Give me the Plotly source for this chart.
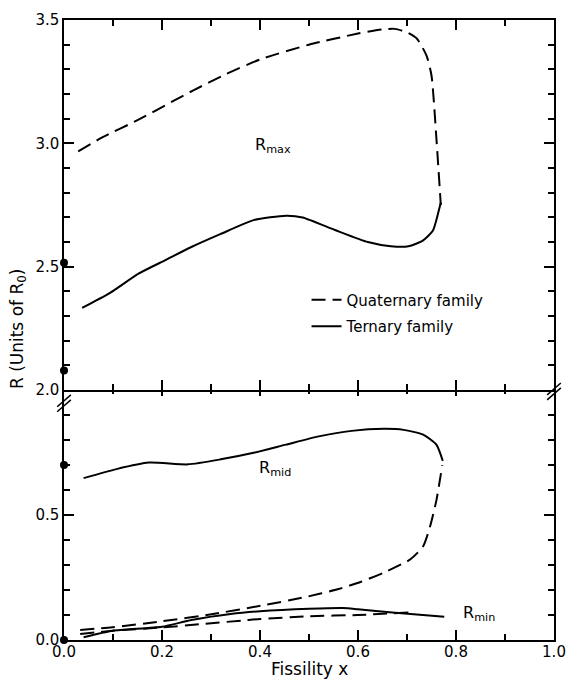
import plotly.graph_objects as go

# ---------------- data ----------------
# Upper panel: R_max
quat_rmax_x = [0.029, 0.078, 0.151, 0.264, 0.33, 0.40, 0.50, 0.60, 0.65, 0.675, 0.70, 0.72, 0.74, 0.75, 0.76, 0.769]
quat_rmax_y = [2.968, 3.024, 3.095, 3.215, 3.28, 3.34, 3.40, 3.445, 3.462, 3.464, 3.45, 3.425, 3.355, 3.275, 3.02, 2.75]

tern_rmax_x = [0.037, 0.093, 0.153, 0.207, 0.26, 0.32, 0.387, 0.453, 0.487, 0.553, 0.62, 0.667, 0.703, 0.733, 0.753, 0.763, 0.769]
tern_rmax_y = [2.333, 2.393, 2.473, 2.527, 2.58, 2.633, 2.689, 2.707, 2.70, 2.649, 2.60, 2.583, 2.583, 2.607, 2.647, 2.713, 2.76]

# Lower panel: R_mid
tern_rmid_x = [0.04, 0.107, 0.173, 0.253, 0.32, 0.387, 0.453, 0.52, 0.587, 0.653, 0.693, 0.733, 0.76, 0.773]
tern_rmid_y = [0.648, 0.684, 0.71, 0.703, 0.723, 0.749, 0.782, 0.815, 0.837, 0.845, 0.841, 0.822, 0.782, 0.717]

quat_rmid_x = [0.033, 0.099, 0.20, 0.304, 0.401, 0.493, 0.56, 0.605, 0.653, 0.707, 0.733, 0.747, 0.76, 0.772]
quat_rmid_y = [0.04, 0.051, 0.075, 0.104, 0.137, 0.172, 0.204, 0.232, 0.27, 0.323, 0.375, 0.454, 0.559, 0.70]

# Lower panel: R_min
tern_rmin_x = [0.04, 0.099, 0.20, 0.26, 0.34, 0.40, 0.50, 0.57, 0.60, 0.67, 0.776]
tern_rmin_y = [0.011, 0.037, 0.053, 0.08, 0.104, 0.115, 0.125, 0.128, 0.123, 0.11, 0.093]

quat_rmin_x = [0.033, 0.10, 0.20, 0.282, 0.37, 0.40, 0.50, 0.60, 0.703]
quat_rmin_y = [0.024, 0.037, 0.05, 0.064, 0.079, 0.084, 0.095, 0.10, 0.11]

# Reference points at x = 0
dot_top_x = [0.0, 0.0]
dot_top_y = [2.516, 2.08]
dot_bot_x = [0.0, 0.0]
dot_bot_y = [0.70, 0.0]

x_ticks = [0.0, 0.2, 0.4, 0.6, 0.8, 1.0]
x_ticktext = ["0.0", "0.2", "0.4", "0.6", "0.8", "1.0"]
x_minor = [0.1, 0.3, 0.5, 0.7, 0.9]
y_top_ticks = [2.0, 2.5, 3.0, 3.5]
y_top_text = ["2.0", "2.5", "3.0", "3.5"]
y_top_minor = [2.1, 2.2, 2.3, 2.4, 2.6, 2.7, 2.8, 2.9, 3.1, 3.2, 3.3, 3.4]
y_bot_ticks = [0.0, 0.5]
y_bot_text = ["0.0", "0.5"]
y_bot_minor = [0.1, 0.2, 0.3, 0.4, 0.6, 0.7, 0.8, 0.9]

FONT = "DejaVu Sans"
DASH = "14px,7px"
LW = 2
SPL = dict(shape="spline", smoothing=0.6)

fig = go.Figure()
# top panel uses xaxis2 / yaxis ; bottom panel uses xaxis / yaxis2
fig.add_trace(go.Scatter(x=quat_rmax_x, y=quat_rmax_y, xaxis="x2", yaxis="y", mode="lines",
                         line=dict(color="black", width=LW, dash=DASH, **SPL),
                         name="Quaternary family", legendgroup="q", showlegend=True))
fig.add_trace(go.Scatter(x=tern_rmax_x, y=tern_rmax_y, xaxis="x2", yaxis="y", mode="lines",
                         line=dict(color="black", width=LW, **SPL),
                         name="Ternary family", legendgroup="t", showlegend=True))
fig.add_trace(go.Scatter(x=dot_top_x, y=dot_top_y, xaxis="x2", yaxis="y", mode="markers", cliponaxis=False,
                         marker=dict(color="black", size=8), showlegend=False))

fig.add_trace(go.Scatter(x=tern_rmid_x, y=tern_rmid_y, xaxis="x", yaxis="y2", mode="lines",
                         line=dict(color="black", width=LW, **SPL), showlegend=False))
fig.add_trace(go.Scatter(x=quat_rmid_x, y=quat_rmid_y, xaxis="x", yaxis="y2", mode="lines",
                         line=dict(color="black", width=LW, dash=DASH, **SPL), showlegend=False))
fig.add_trace(go.Scatter(x=tern_rmin_x, y=tern_rmin_y, xaxis="x", yaxis="y2", mode="lines",
                         line=dict(color="black", width=LW, **SPL), showlegend=False))
fig.add_trace(go.Scatter(x=quat_rmin_x, y=quat_rmin_y, xaxis="x", yaxis="y2", mode="lines",
                         line=dict(color="black", width=LW, dash=DASH, **SPL), showlegend=False))
fig.add_trace(go.Scatter(x=dot_bot_x, y=dot_bot_y, xaxis="x", yaxis="y2", mode="markers", cliponaxis=False,
                         marker=dict(color="black", size=8), showlegend=False))

tickfont = dict(family=FONT, size=15, color="black")
base = dict(showline=True, linecolor="black", linewidth=1.5,
            ticks="inside", ticklen=10, tickwidth=1.8, tickcolor="black",
            showgrid=False, zeroline=False, tickfont=tickfont)
MINOR = dict(ticks="inside", tickmode="array", ticklen=6, tickcolor="black", tickwidth=1.6)

TOP_DOMAIN = [0.403, 1.0]
BOT_DOMAIN = [0.0, 0.403]

fig.update_layout(
    xaxis=dict(base, domain=[0, 1], anchor="y2", range=[0, 1.0], tickmode="array",
               tickvals=x_ticks, ticktext=x_ticktext, mirror=False,
               minor=dict(MINOR, tickvals=x_minor), ticklabelstandoff=-3),
    xaxis2=dict(base, domain=[0, 1], anchor="y", matches="x", range=[0, 1.0], tickmode="array",
                tickvals=x_ticks, ticktext=x_ticktext, showticklabels=False, mirror="ticks",
                minor=dict(MINOR, tickvals=x_minor)),
    # downward ticks on the break line (top edge of the lower panel), no extra line
    xaxis3=dict(base, domain=[0, 1], anchor="y2", overlaying="x", side="top", matches="x",
                range=[0, 1.0], tickmode="array", tickvals=x_ticks, showline=False,
                showticklabels=False, ticklen=6, minor=dict(MINOR, tickvals=x_minor, ticklen=4)),
    yaxis=dict(base, domain=TOP_DOMAIN, anchor="x2", range=[2.0, 3.5], tickmode="array",
               tickvals=y_top_ticks, ticktext=y_top_text, mirror="ticks",
               minor=dict(MINOR, tickvals=y_top_minor)),
    yaxis2=dict(base, domain=BOT_DOMAIN, anchor="x", range=[0.0, 1.0], tickmode="array",
                tickvals=y_bot_ticks, ticktext=y_bot_text, mirror="ticks",
                minor=dict(MINOR, tickvals=y_bot_minor)),
)
# invisible carrier so the tick-only axis is drawn
fig.add_trace(go.Scatter(x=[0.0, 1.0], y=[0.0, 0.0], xaxis="x3", yaxis="y2", mode="lines",
                         line=dict(width=0), hoverinfo="skip", showlegend=False, opacity=0))

annot_font = dict(family=FONT, size=16, color="black")
fig.add_annotation(x=0.385, y=2.99, xref="x2", yref="y", text="R<sub>max</sub>",
                   showarrow=False, xanchor="left", yanchor="middle", font=annot_font)
fig.add_annotation(x=0.394, y=0.685, xref="x", yref="y2", text="R<sub>mid</sub>",
                   showarrow=False, xanchor="left", yanchor="middle", font=annot_font)
fig.add_annotation(x=0.81, y=0.105, xref="x", yref="y2", text="R<sub>min</sub>",
                   showarrow=False, xanchor="left", yanchor="middle", font=annot_font)

fig.add_annotation(x=0.5, y=-0.046, xref="paper", yref="paper", text="Fissility x",
                   showarrow=False, xanchor="center", yanchor="middle",
                   font=dict(family=FONT, size=17, color="black"))
fig.add_annotation(x=-0.094, y=0.503, xref="paper", yref="paper", text="R (Units of R<sub>0</sub>)",
                   showarrow=False, textangle=-90, xanchor="center", yanchor="middle",
                   font=dict(family=FONT, size=17, color="black"))

# axis-break marks (//)
W, H = 502.0, 626.0
def slash(cx, cy, dy):
    return dict(type="line", xref="paper", yref="paper",
                x0=cx - 7 / W, y0=cy - (6 - dy) / H, x1=cx + 7 / W, y1=cy + (6 + dy) / H,
                line=dict(color="black", width=1.5))
for cx, cy in [(0.0, (640 - 401) / H), (1.0, (640 - 389) / H)]:
    fig.add_shape(slash(cx, cy, -2.5))
    fig.add_shape(slash(cx, cy, 2.5))

fig.update_layout(
    width=577, height=681,
    margin=dict(l=64, r=11, t=14, b=41),
    plot_bgcolor="white", paper_bgcolor="white",
    showlegend=True,
    legend=dict(x=0.495, y=0.575, xanchor="left", yanchor="top",
                bgcolor="rgba(0,0,0,0)", traceorder="grouped", tracegroupgap=4,
                font=dict(family=FONT, size=15, color="black")),
)

fig.write_html("out.html")
